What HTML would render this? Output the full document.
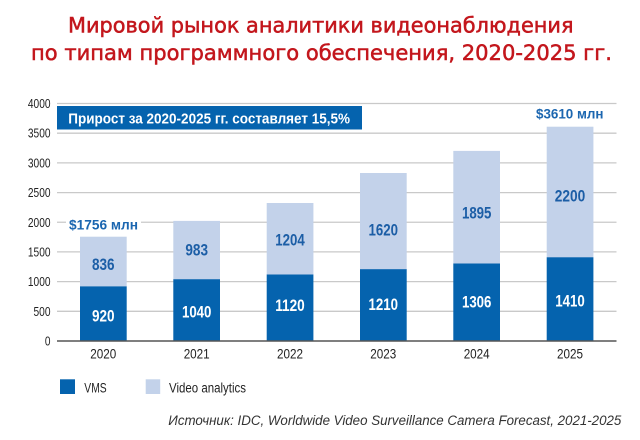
<!DOCTYPE html>
<html><head><meta charset="utf-8"><style>
html,body{margin:0;padding:0;background:#fff;}
svg{display:block;}
</style></head><body>
<svg width="640" height="440" viewBox="0 0 640 440" xmlns="http://www.w3.org/2000/svg">
<rect x="0" y="0" width="640" height="440" fill="#ffffff"/>
<!-- Title -->
<g font-family="'DejaVu Sans','Liberation Sans',sans-serif" font-size="21" fill="#c3161c" stroke="#c3161c" stroke-width="0.5">
<text x="68" y="32.7" textLength="505.5" lengthAdjust="spacingAndGlyphs">Мировой рынок аналитики видеонаблюдения</text>
<text x="31" y="60" textLength="581" lengthAdjust="spacingAndGlyphs">по типам программного обеспечения, 2020-2025 гг.</text>
</g>
<!-- gridlines -->
<g stroke="#c9c9c9" stroke-width="1.3">
<line x1="57" x2="616.5" y1="103.5" y2="103.5"/>
<line x1="57" x2="616.5" y1="133.2" y2="133.2"/>
<line x1="57" x2="616.5" y1="162.9" y2="162.9"/>
<line x1="57" x2="616.5" y1="192.6" y2="192.6"/>
<line x1="57" x2="616.5" y1="222.25" y2="222.25"/>
<line x1="57" x2="616.5" y1="251.9" y2="251.9"/>
<line x1="57" x2="616.5" y1="281.6" y2="281.6"/>
<line x1="57" x2="616.5" y1="311.3" y2="311.3"/>
</g>
<!-- y labels -->
<g font-family="'Liberation Sans',sans-serif" font-size="12.5" fill="#222" text-anchor="end">
<text x="50.5" y="108" textLength="22.6" lengthAdjust="spacingAndGlyphs">4000</text>
<text x="50.5" y="137.7" textLength="22.6" lengthAdjust="spacingAndGlyphs">3500</text>
<text x="50.5" y="167.4" textLength="22.6" lengthAdjust="spacingAndGlyphs">3000</text>
<text x="50.5" y="197.1" textLength="22.6" lengthAdjust="spacingAndGlyphs">2500</text>
<text x="50.5" y="226.8" textLength="22.6" lengthAdjust="spacingAndGlyphs">2000</text>
<text x="50.5" y="256.4" textLength="22.6" lengthAdjust="spacingAndGlyphs">1500</text>
<text x="50.5" y="286.1" textLength="22.6" lengthAdjust="spacingAndGlyphs">1000</text>
<text x="50.5" y="315.8" textLength="17" lengthAdjust="spacingAndGlyphs">500</text>
<text x="50.5" y="345.5" textLength="5.6" lengthAdjust="spacingAndGlyphs">0</text>
</g>
<!-- bars -->
<g fill="#c3d2ea">
<rect x="80" y="236.7" width="46.7" height="50"/>
<rect x="173.3" y="220.9" width="46.7" height="59"/>
<rect x="266.7" y="203" width="46.7" height="72"/>
<rect x="360" y="173" width="46.7" height="97"/>
<rect x="453.3" y="150.9" width="46.7" height="113"/>
<rect x="546.7" y="126.7" width="46.7" height="131"/>
</g>
<g fill="#0563ae">
<rect x="80" y="286.4" width="46.7" height="54.6"/>
<rect x="173.3" y="279.25" width="46.7" height="61.75"/>
<rect x="266.7" y="274.5" width="46.7" height="66.5"/>
<rect x="360" y="269.2" width="46.7" height="71.8"/>
<rect x="453.3" y="263.5" width="46.7" height="77.5"/>
<rect x="546.7" y="257.3" width="46.7" height="83.7"/>
</g>
<!-- axis -->
<line x1="57" x2="616.5" y1="341" y2="341" stroke="#555" stroke-width="1.6"/>
<!-- value labels -->
<g font-family="'Liberation Sans',sans-serif" font-size="17" font-weight="bold" text-anchor="middle">
<g fill="#1c5ea6">
<text x="103.3" y="270" textLength="22.6" lengthAdjust="spacingAndGlyphs">836</text>
<text x="196.7" y="255.7" textLength="22.6" lengthAdjust="spacingAndGlyphs">983</text>
<text x="290" y="245.7" textLength="29.5" lengthAdjust="spacingAndGlyphs">1204</text>
<text x="383.3" y="235.7" textLength="29.5" lengthAdjust="spacingAndGlyphs">1620</text>
<text x="476.7" y="218.3" textLength="29.5" lengthAdjust="spacingAndGlyphs">1895</text>
<text x="570" y="201.7" textLength="30.5" lengthAdjust="spacingAndGlyphs">2200</text>
</g>
<g fill="#ffffff">
<text x="103.3" y="321.5" textLength="22.6" lengthAdjust="spacingAndGlyphs">920</text>
<text x="196.7" y="317.3" textLength="29.5" lengthAdjust="spacingAndGlyphs">1040</text>
<text x="290" y="311" textLength="29.5" lengthAdjust="spacingAndGlyphs">1120</text>
<text x="383.3" y="310" textLength="29.5" lengthAdjust="spacingAndGlyphs">1210</text>
<text x="476.7" y="307.3" textLength="29.5" lengthAdjust="spacingAndGlyphs">1306</text>
<text x="570" y="306.7" textLength="29.5" lengthAdjust="spacingAndGlyphs">1410</text>
</g>
</g>
<!-- totals -->
<rect x="66" y="215" width="75" height="15" fill="#ffffff"/>
<g font-family="'Liberation Sans',sans-serif" font-size="14" font-weight="bold" fill="#1b66b0">
<text x="69" y="229.5" textLength="69" lengthAdjust="spacingAndGlyphs">$1756 млн</text>
<text x="536" y="118.5" textLength="67.5" lengthAdjust="spacingAndGlyphs">$3610 млн</text>
</g>
<!-- box -->
<rect x="57" y="106" width="305" height="23.5" fill="#0563ae"/>
<text x="68.3" y="123.3" font-family="'Liberation Sans',sans-serif" font-size="14.5" font-weight="bold" fill="#ffffff" textLength="281.7" lengthAdjust="spacingAndGlyphs">Прирост за 2020-2025 гг. составляет 15,5%</text>
<!-- year labels -->
<g font-family="'Liberation Sans',sans-serif" font-size="13.5" fill="#222" text-anchor="middle">
<text x="103.3" y="358.3" textLength="26" lengthAdjust="spacingAndGlyphs">2020</text>
<text x="196.7" y="358.3" textLength="26" lengthAdjust="spacingAndGlyphs">2021</text>
<text x="290" y="358.3" textLength="26" lengthAdjust="spacingAndGlyphs">2022</text>
<text x="383.3" y="358.3" textLength="26" lengthAdjust="spacingAndGlyphs">2023</text>
<text x="476.7" y="358.3" textLength="26" lengthAdjust="spacingAndGlyphs">2024</text>
<text x="570" y="358.3" textLength="26" lengthAdjust="spacingAndGlyphs">2025</text>
</g>
<!-- legend -->
<rect x="60" y="379.3" width="15" height="14.7" fill="#0563ae"/>
<rect x="145.7" y="379.3" width="14.5" height="14.7" fill="#c3d2ea"/>
<g font-family="'Liberation Sans',sans-serif" font-size="13.5" fill="#222">
<text x="84.3" y="392.7" textLength="22.4" lengthAdjust="spacingAndGlyphs">VMS</text>
<text x="169" y="392.7" textLength="77" lengthAdjust="spacingAndGlyphs">Video analytics</text>
</g>
<!-- source -->
<text x="168.3" y="425" font-family="'Liberation Sans',sans-serif" font-size="13.5" font-style="italic" fill="#333" textLength="453" lengthAdjust="spacingAndGlyphs">Источник: IDC, Worldwide Video Surveillance Camera Forecast, 2021-2025</text>
</svg>
</body></html>
